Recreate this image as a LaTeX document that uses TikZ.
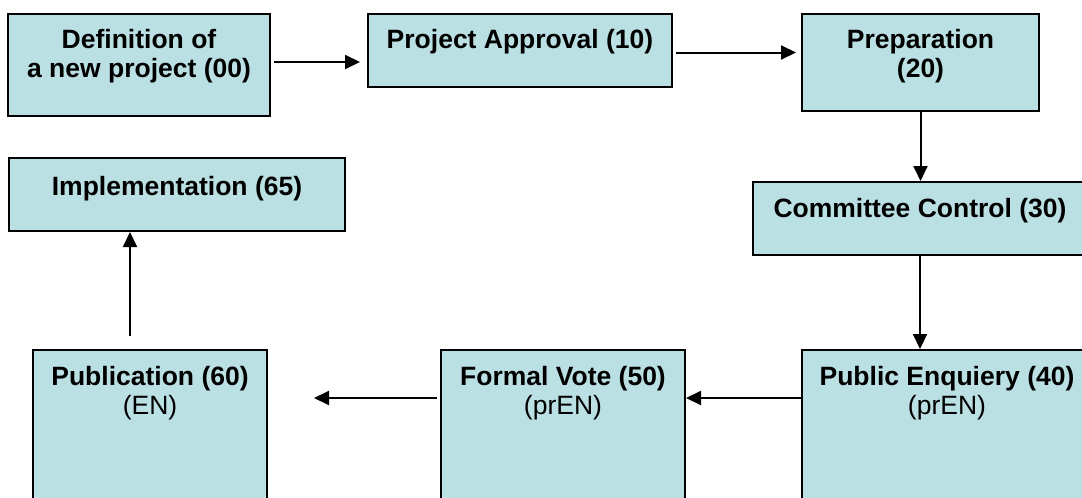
\documentclass[tikz,border=0pt]{standalone}
\usepackage{fontspec}
\setmainfont{Liberation Sans}
\usetikzlibrary{positioning,arrows.meta}
\definecolor{stagefill}{RGB}{187,224,227}

\begin{document}
\begin{tikzpicture}[x=1pt,y=-1pt,
    stage/.style={draw=black,fill=stagefill,line width=2pt,rectangle},
    title/.style={inner sep=0pt,align=center,font=\fontsize{26.5}{29.5}\selectfont},
    flow/.style={line width=2pt,-{Triangle[length=15pt,width=14pt]}}]
  \clip (0,0) rectangle (1082,498);
  % stages of the standard
  \node[stage,minimum width=262pt,minimum height=102pt] (def) at (139,65) {};
  \node[stage,minimum width=304pt,minimum height=73pt] (app) at (520,50.5) {};
  \node[stage,minimum width=237pt,minimum height=97pt] (prep) at (920.5,62.5) {};
  \node[stage,minimum width=334pt,minimum height=73pt] (ctrl) at (920,218.5) {};
  \node[stage,minimum width=290pt,minimum height=200pt] (enq) at (947,450) {};
  \node[stage,minimum width=244pt,minimum height=200pt] (vote) at (563,450) {};
  \node[stage,minimum width=234pt,minimum height=200pt] (pub) at (150,450) {};
  \node[stage,minimum width=336pt,minimum height=73pt] (impl) at (177,194.5) {};
  % titles sit at the top of each box
  \node[title,below=16pt of def.north] (tdef) {\bfseries Definition of\\\bfseries a new project (00)};
  \node[title,below=16pt of app.north] (tapp) {\bfseries Project Approval (10)};
  \node[title,below=16pt of prep.north] (tprep) {\bfseries Preparation\\\bfseries (20)};
  \node[title,below=17pt of ctrl.north] (tctrl) {\bfseries Committee Control (30)};
  \node[title,below=17pt of enq.north] (tenq) {\bfseries Public Enquiery (40)\\(prEN)};
  \node[title,below=17pt of vote.north] (tvote) {\bfseries Formal Vote (50)\\(prEN)};
  \node[title,below=17pt of pub.north] (tpub) {\bfseries Publication (60)\\(EN)};
  \node[title,below=19pt of impl.north] (timpl) {\bfseries Implementation (65)};
  % flow between stages
  \draw[flow] ([xshift=3pt,yshift=3pt]def.east) -- ([xshift=-7pt,yshift=3pt]def.east -| app.west);
  \draw[flow] ([xshift=3pt,yshift=-2pt]app.east) -- ([xshift=-5pt,yshift=-2pt]app.east -| prep.west);
  \draw[flow] (prep.south) -- (prep.south |- ctrl.north);
  \draw[flow] (ctrl.south) -- (ctrl.south |- enq.north);
  \draw[flow] ([yshift=-49pt]enq.north west) -- ([yshift=-49pt]vote.north east);
  \draw[flow] ([xshift=-3pt,yshift=-49pt]vote.north west) -- ([xshift=46pt,yshift=-49pt]pub.north east);
  \draw[flow] ([xshift=-20pt,yshift=13pt]pub.north) -- ([xshift=-20pt]pub.north |- impl.south);
\end{tikzpicture}
\end{document}
